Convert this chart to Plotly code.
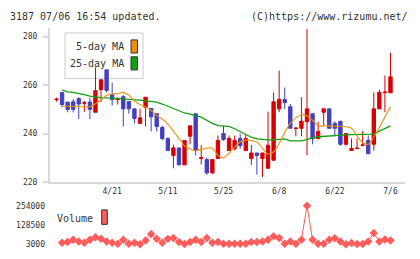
import plotly.graph_objects as go

# ---- data ----
dates = ["4/7","4/8","4/9","4/10","4/13","4/14","4/15","4/16","4/17","4/20","4/21",
         "4/22","4/23","4/24","4/27","4/28","4/30","5/1","5/7","5/8","5/11",
         "5/12","5/13","5/14","5/15","5/18","5/19","5/20","5/21","5/22","5/25",
         "5/26","5/27","5/28","5/29","6/1","6/2","6/3","6/4","6/5","6/8",
         "6/9","6/10","6/11","6/12","6/15","6/16","6/17","6/18","6/19","6/22",
         "6/23","6/24","6/25","6/26","6/29","6/30","7/1","7/2","7/3","7/6"]

opens = [254.0,257.0,253.0,253.1,254.4,252.5,253.0,248.8,258.1,266.3,256.0,
         254.0,255.2,253.2,250.2,244.2,250.8,250.4,248.2,242.5,238.0,
         231.0,234.1,227.1,238.9,248.2,229.8,229.3,223.8,229.7,240.0,
         233.0,233.9,238.0,233.0,229.7,232.0,229.7,225.7,229.0,250.2,
         254.1,251.1,242.1,242.2,244.9,248.2,237.9,248.8,250.2,244.2,
         245.1,235.6,233.0,233.8,235.1,237.2,235.6,250.2,256.9,256.8]
closes = [254.2,252.0,250.0,250.0,252.2,252.7,250.0,257.7,262.2,257.8,254.0,
          254.2,250.2,250.2,246.2,246.5,255.0,246.9,242.9,238.0,233.0,
          234.1,227.1,237.2,243.2,233.0,230.1,223.8,229.3,237.2,237.6,
          238.0,237.2,235.0,238.0,232.0,231.0,232.0,235.2,253.1,254.1,
          252.8,242.2,242.3,245.1,250.2,237.9,240.9,250.2,242.2,242.2,
          235.6,240.0,233.9,234.0,235.3,231.7,250.2,257.0,257.1,263.4]
highs = [254.8,257.0,253.0,254.3,255.0,253.5,254.8,267.3,262.3,266.3,261.0,
         255.0,256.0,253.2,250.2,250.2,255.0,250.4,248.2,243.3,238.5,
         235.5,234.1,237.2,243.2,248.2,235.2,230.1,229.3,239.2,243.2,
         239.2,239.2,240.0,239.5,235.3,232.0,232.0,249.1,257.0,266.0,
         259.0,252.2,242.3,255.0,283.2,248.2,244.9,250.2,250.2,245.1,
         245.1,240.0,238.0,238.0,241.2,239.2,257.0,258.1,264.0,273.3]
lows = [253.2,250.8,248.8,248.8,246.0,249.0,246.0,248.8,253.0,257.0,251.5,
        252.0,242.9,248.2,244.2,244.2,242.9,240.9,240.9,237.2,233.0,
        225.7,227.1,227.1,235.6,231.0,227.3,223.0,223.3,229.7,237.0,
        233.0,233.0,233.7,233.0,227.1,223.1,222.1,225.7,229.0,248.8,
        250.2,242.2,238.9,238.9,231.0,235.6,237.9,243.2,242.2,238.9,
        235.0,235.0,233.0,233.8,234.8,231.7,233.0,250.2,248.8,256.8]

ma5 = [None,251.3,251.3,251.2,251.1,251.0,251.1,252.3,254.0,255.8,256.3,
       256.5,257.0,255.8,253.5,252.0,251.0,249.5,247.5,246.0,244.0,
       241.0,238.0,235.0,233.7,233.0,233.5,234.0,234.0,231.0,230.0,
       232.0,234.5,236.5,237.3,237.2,236.5,234.0,231.5,232.5,236.0,
       240.5,244.2,246.5,247.8,247.3,245.5,243.2,243.2,243.2,243.0,
       243.0,242.8,242.2,238.9,236.3,235.6,238.5,242.5,246.9,251.1]
ma25 = [None,258.0,257.2,257.0,256.7,256.1,255.5,255.1,254.8,254.7,254.6,
        254.5,254.4,254.2,254.1,253.8,253.5,253.3,253.0,252.2,251.3,
        250.3,249.5,248.5,248.0,247.5,246.8,245.5,244.2,243.3,243.2,
        243.0,242.0,240.8,239.5,238.5,237.8,237.5,237.4,237.4,237.5,
        237.8,237.0,237.0,237.0,237.5,238.3,238.7,238.9,238.9,239.0,
        239.3,239.5,239.6,239.6,239.6,239.6,239.8,241.0,242.2,243.2]

volume = [None,13500,17600,32300,21800,13500,32300,49000,38600,21800,13500,
          7200,32300,7200,13500,3000,28100,70000,38600,13500,38600,
          44800,17600,5000,17600,32300,17600,44800,13500,17600,7200,
          7200,7200,7200,7200,17600,17600,21800,32300,55300,44800,
          7200,21800,7200,32300,254000,32300,7200,7200,32300,42700,
          21800,3000,11400,5000,5000,21800,76200,21800,34400,28100]

label_idx = [10, 20, 30, 40, 50, 60]
price_ticks = [220, 240, 260, 280]
vol_ticks = [3000, 128500, 254000]

# ---- styles ----
W, H = 420, 259
RED, BLUE = "#d70000", "#4040c0"
ORANGE, GREEN = "#f0900a", "#10a010"
VOLC = "#ff5c5c"
GRID = "#d8d8d8"
TXT = "#333333"
MONO = "DejaVu Sans Mono"

def px(x):
    return x / W

def py(y):
    return 1 - y / H

idx = list(range(len(dates)))
x0 = 56.5
step = (390.5 - 56.5) / 60
xr = [(50 - x0) / step, (405 - x0) / step]

fig = go.Figure()
fig.add_trace(go.Candlestick(
    x=idx, open=opens, high=highs, low=lows, close=closes,
    increasing=dict(line=dict(color=RED, width=1), fillcolor=RED),
    decreasing=dict(line=dict(color=BLUE, width=1), fillcolor=BLUE),
    whiskerwidth=0, hoverinfo="skip", showlegend=False,
))
fig.add_trace(go.Scatter(x=idx, y=ma25, mode="lines", line=dict(color=GREEN, width=1.3),
                         hoverinfo="skip", showlegend=False))
fig.add_trace(go.Scatter(x=idx, y=ma5, mode="lines", line=dict(color=ORANGE, width=1.1, shape="spline"),
                         hoverinfo="skip", showlegend=False))
fig.add_trace(go.Scatter(x=idx, y=volume, mode="lines+markers", xaxis="x", yaxis="y2",
                         line=dict(color=VOLC, width=1),
                         marker=dict(symbol="diamond", size=6.5, color=VOLC),
                         cliponaxis=False, hoverinfo="skip", showlegend=False))

fig.update_layout(
    width=W, height=H, margin=dict(l=0, r=0, t=0, b=0),
    paper_bgcolor="white", plot_bgcolor="white",
    boxgap=0.14,
    xaxis=dict(domain=[px(50), px(405)], range=xr, anchor="y",
               tickvals=label_idx, ticktext=[dates[i] for i in label_idx],
               ticks="", showgrid=False, zeroline=False,
               showline=True, linecolor=GRID, linewidth=2,
               tickfont=dict(family=MONO, size=8, color=TXT),
               rangeslider=dict(visible=False)),
    xaxis2=dict(domain=[px(50), px(405)], range=xr, overlaying="x", anchor="y",
                tickmode="linear", tick0=xr[0], dtick=(xr[1] - xr[0]) / 11,
                ticks="outside", ticklen=6, tickwidth=1.5, tickcolor=GRID,
                showticklabels=False, showgrid=False, zeroline=False, showline=False),
    xaxis3=dict(domain=[px(50), px(405)], range=xr, overlaying="x", anchor="y",
                tickmode="linear", tick0=xr[0], dtick=(xr[1] - xr[0]) / 11,
                ticks="inside", ticklen=3, tickwidth=1.5, tickcolor=GRID,
                showticklabels=False, showgrid=False, zeroline=False, showline=False),
    yaxis=dict(domain=[py(184.5), py(25)], range=[220, 283.5],
               tickvals=price_ticks, ticks="outside", ticklen=5, tickwidth=1.5, tickcolor=GRID,
               showgrid=False, zeroline=False, showline=True, linecolor=GRID, linewidth=2,
               tickfont=dict(family=MONO, size=8, color=TXT), ticklabelstandoff=4),
    yaxis2=dict(domain=[py(249), py(209)], range=[3000, 254000], anchor="x",
                tickvals=vol_ticks, ticktext=[str(v) for v in vol_ticks],
                ticks="", showgrid=False, zeroline=False, showline=False,
                tickfont=dict(family=MONO, size=8, color=TXT), ticklabelstandoff=4),
)

# header texts
fig.add_annotation(x=px(8), y=py(12.5), xref="paper", yref="paper", xanchor="left", yanchor="middle",
                   text="3187 07/06 16:54 updated.", showarrow=False,
                   font=dict(family=MONO, size=10, color=TXT))
fig.add_annotation(x=px(410), y=py(12.5), xref="paper", yref="paper", xanchor="right", yanchor="middle",
                   text="(C)https://www.rizumu.net/", showarrow=False,
                   font=dict(family=MONO, size=10, color=TXT))

# MA legend box (drawn beneath the candles, as in the reference)
fig.add_shape(type="rect", xref="paper", yref="paper", x0=px(65), x1=px(143), y0=py(77), y1=py(30),
              line=dict(color="#cccccc", width=1), fillcolor="white", layer="below")
for label, col, yc in [("5-day MA", ORANGE, 44), ("25-day MA", GREEN, 61.5)]:
    fig.add_annotation(x=px(125.5), y=py(yc), xref="paper", yref="paper", xanchor="right", yanchor="middle",
                       text=label, showarrow=False, font=dict(family=MONO, size=10, color=TXT))
    fig.add_shape(type="rect", xref="paper", yref="paper", x0=px(131), x1=px(137.5),
                  y0=py(yc + 6.8), y1=py(yc - 6.8),
                  line=dict(color="#333333", width=1), fillcolor=col, layer="above")

# Volume legend
fig.add_annotation(x=px(95), y=py(222), xref="paper", yref="paper", xanchor="right", yanchor="middle",
                   text="Volume", showarrow=False, font=dict(family=MONO, size=10, color=TXT))
fig.add_shape(type="rect", xref="paper", yref="paper", x0=px(101.7), x1=px(107.3), y0=py(228.3), y1=py(213.3),
              line=dict(color="#333333", width=1), fillcolor=VOLC, layer="above")

fig.write_html("out.html")
